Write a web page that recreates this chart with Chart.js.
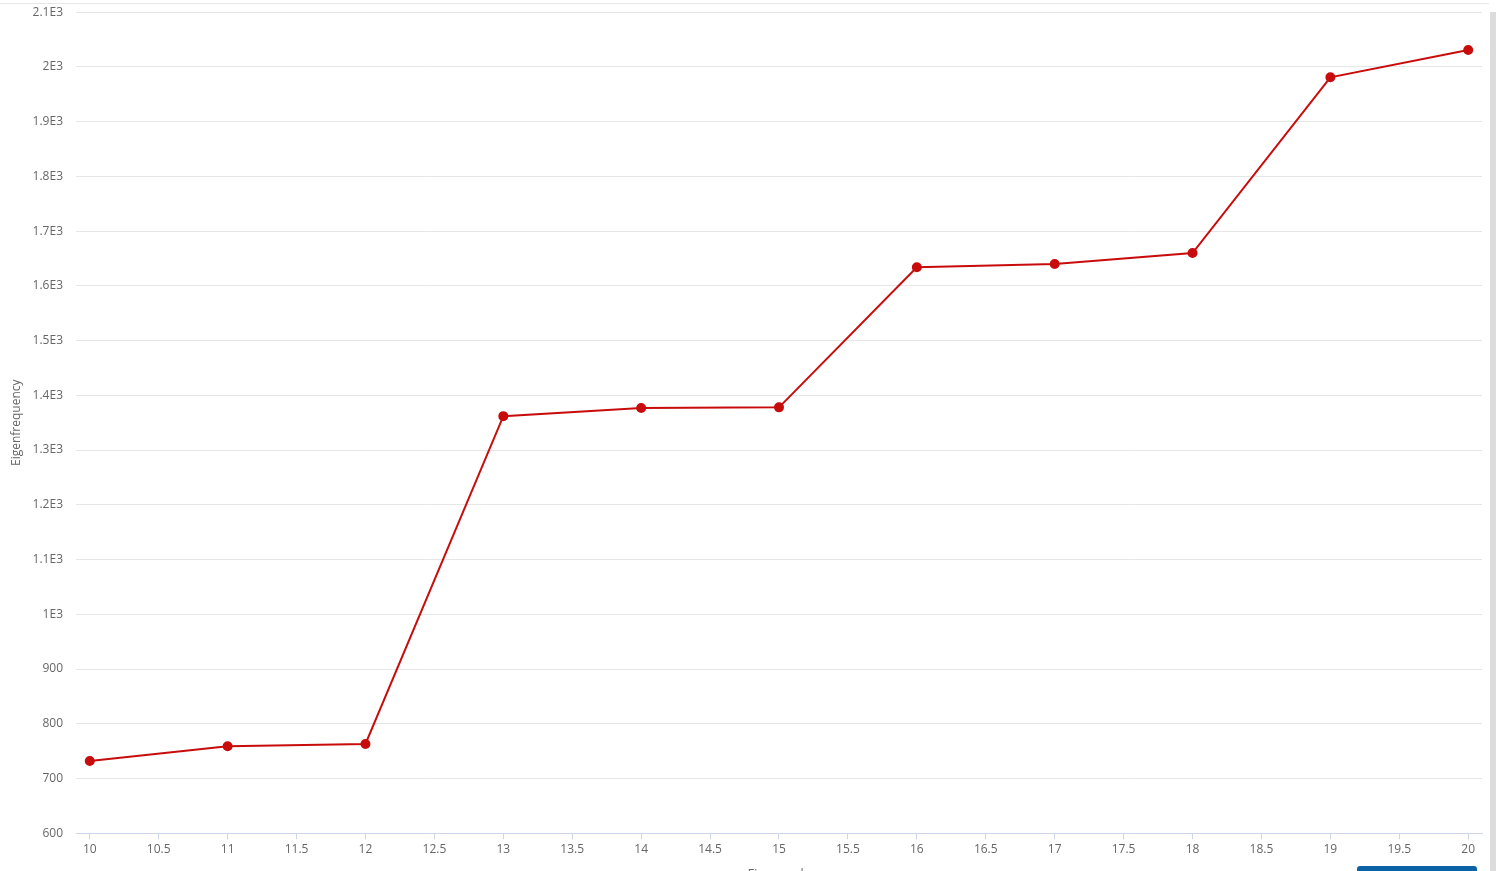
<!DOCTYPE html>
<html>
<head>
<meta charset="utf-8">
<script src="https://cdn.jsdelivr.net/npm/chart.js@4/dist/chart.umd.min.js"></script>
<style>
  html, body { margin: 0; padding: 0; overflow: hidden; background: #fff; }
  #topline { position: absolute; left: 0; top: 3px; width: 1489px; height: 0; border-top: 1px solid #e8e8e8; }
  #wrap { position: absolute; left: 0; top: -8px; width: 1489px; height: 890px; }
  #scroll { position: absolute; left: 1490px; top: 12px; width: 6px; height: 859px; background: #dcdcdc; }
  #btn { position: absolute; left: 1357px; top: 866px; width: 120px; height: 30px; background: #0b62a4; border-radius: 3px; }
</style>
</head>
<body>
<div id="topline"></div>
<div id="wrap"><canvas id="myGraph"></canvas></div>
<div id="scroll"></div>
<div id="btn"></div>
<script>
// eigenmode number vs eigenfrequency
var modes = [10, 11, 12, 13, 14, 15, 16, 17, 18, 19, 20];
var freqs = [732, 759, 763, 1362, 1377, 1378, 1634, 1640, 1660, 1981, 2031];
var xTicks = [10, 10.5, 11, 11.5, 12, 12.5, 13, 13.5, 14, 14.5, 15, 15.5, 16, 16.5, 17, 17.5, 18, 18.5, 19, 19.5, 20];

var points = [];
for (var i = 0; i < modes.length; i++) {
    points.push({ x: modes[i], y: freqs[i] });
}

Chart.defaults.font.family = "'Open Sans', sans-serif";
Chart.defaults.font.size = 12;
Chart.defaults.color = '#666';

var ctx = document.getElementById('myGraph');
var myChart = new Chart(ctx, {
    type: 'line',
    data: {
        datasets: [{
            label: 'Eigenfrequency',
            data: points,
            borderColor: '#c80c0c',
            backgroundColor: '#c80c0c',
            borderWidth: 2,
            pointRadius: 4,
            pointHoverRadius: 5,
            tension: 0
        }]
    },
    options: {
        responsive: true,
        maintainAspectRatio: false,
        animation: false,
        layout: { padding: { top: 6, right: 6, left: 0 } },
        plugins: {
            legend: { display: false },
            tooltip: { enabled: false }
        },
        scales: {
            x: {
                type: 'linear',
                min: 9.9,
                max: 20.1,
                afterBuildTicks: function (scale) {
                    scale.ticks = xTicks.map(function (v) { return { value: v }; });
                },
                ticks: {
                    padding: 3,
                    maxRotation: 0,
                    autoSkip: false,
                    callback: function (v) { return String(v); }
                },
                grid: { drawOnChartArea: false, drawTicks: true, tickLength: 6, color: '#ccd6eb' },
                border: { display: true, color: '#ccd6eb', width: 1 },
                title: { display: true, text: 'Eigenmode', padding: { top: 8, bottom: 0 } }
            },
            y: {
                min: 600,
                max: 2100,
                afterFit: function (scale) { scale.width = 76; },
                ticks: {
                    stepSize: 100,
                    padding: 13,
                    callback: function (v) {
                        return v >= 1000 ? (v / 1000) + 'E3' : v;
                    }
                },
                grid: { color: '#e6e6e6', drawTicks: false },
                border: { display: false },
                title: { display: true, text: 'Eigenfrequency', padding: { top: 9, bottom: 0 } }
            }
        }
    }
});
</script>
</body>
</html>
